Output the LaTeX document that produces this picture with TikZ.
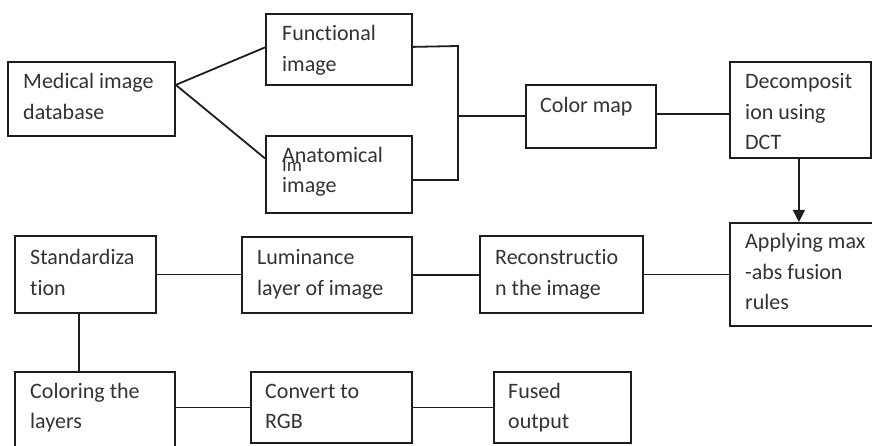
\documentclass[tikz,border=0pt]{standalone}
\usepackage{fontspec}
\setmainfont{Carlito}[Ligatures={NoCommon}]
\usetikzlibrary{arrows.meta,calc}
\definecolor{ink}{HTML}{1E1E1E}
\definecolor{txtc}{HTML}{333333}
\tikzset{
  box/.style={draw=ink, line width=1.8pt, rectangle, inner sep=0pt, anchor=north west, fill=white},
  txt/.style={anchor=base west, inner sep=0pt, text=txtc, font=\fontsize{22}{30.5}\selectfont},
  conn/.style={draw=ink, line width=1.8pt},
  arr/.style={conn, -{Triangle[width=12pt,length=12pt]}}
}
\newcommand{\tb}[1]{\parbox[t]{220pt}{#1}}
\begin{document}
\begin{tikzpicture}[x=1pt,y=-1pt]
\useasboundingbox (0,0) rectangle (872,446);
\clip (0,0) rectangle (872,446);
% boxes
\node[box, minimum width=167pt, minimum height=74pt] (med) at (7,61) {};
\node[box, minimum width=146pt, minimum height=71pt] (func) at (265,13) {};
\node[box, minimum width=146pt, minimum height=77pt] (anat) at (265,135) {};
\node[box, minimum width=130pt, minimum height=63pt] (cmap) at (525,84) {};
\node[box, minimum width=141pt, minimum height=96pt] (dec) at (729,61) {};
\node[box, minimum width=160pt, minimum height=103pt] (app) at (729,222) {};
\node[box, minimum width=163pt, minimum height=77pt] (rec) at (479,235) {};
\node[box, minimum width=170pt, minimum height=76pt] (lum) at (241,236) {};
\node[box, minimum width=141pt, minimum height=77pt] (std) at (14,235) {};
\node[box, minimum width=160pt, minimum height=95pt] (col) at (14,371) {};
\node[box, minimum width=161pt, minimum height=71pt] (conv) at (250,371) {};
\node[box, minimum width=137pt, minimum height=71pt] (fus) at (493,371) {};
% texts
\node[txt] (medt) at (23,89) {\tb{Medical image\\database}};
\node[txt] (funct) at (282,41) {\tb{Functional\\image}};
\node[txt, font=\fontsize{19}{24}\selectfont] (anatim) at (282,172) {Im};
\node[txt] (anatt) at (282,163) {\tb{Anatomical\\[-0.5pt]image}};
\node[txt] (cmapt) at (540,113) {\tb{Color map}};
\node[txt] (dect) at (745,89) {\tb{Decomposit\\ion using\\DCT}};
\node[txt] (appt) at (745,249) {\tb{Applying max\\-abs fusion\\rules}};
\node[txt] (rect) at (495,265) {\tb{Reconstructio\\n the image}};
\node[txt] (lumt) at (257,265) {\tb{Luminance\\layer of image}};
\node[txt] (stdt) at (30,265) {\tb{Standardiza\\tion}};
\node[txt] (colt) at (30,398) {\tb{Coloring the\\layers}};
\node[txt] (convt) at (265,398) {\tb{Convert to\\RGB}};
\node[txt] (fust) at (508,398) {\tb{Fused\\output}};
% connectors
\coordinate (mj) at ([yshift=14pt]med.east);
\draw[conn] (mj) -- ([yshift=2pt]func.west);
\draw[conn] (mj) -- ([yshift=16pt]anat.west);
\coordinate (jt) at (458,46);
\coordinate (jb) at (458,180);
\draw[conn] ([yshift=2.5pt]func.east) -- (jt) -- (jb) -- (jb -| anat.east);
\draw[conn] (cmap.west -| jt) -- (cmap.west);
\draw[conn] ([yshift=2.5pt]cmap.east) -- ([yshift=2.5pt]cmap.east -| dec.west);
\draw[arr] ([xshift=-1.5pt]dec.south) -- ([xshift=-1.5pt]dec.south |- app.north);
\draw[conn] (rec.east) -- (rec.east -| app.west);
\draw[conn] (lum.east) -- (lum.east -| rec.west);
\draw[conn] (std.east) -- (std.east -| lum.west);
\draw[conn] ([xshift=-6.5pt]std.south) -- ([xshift=-6.5pt]std.south |- col.north);
\draw[conn] (conv.west -| col.east) -- (conv.west);
\draw[conn] (conv.east) -- (fus.west);
\end{tikzpicture}
\end{document}
